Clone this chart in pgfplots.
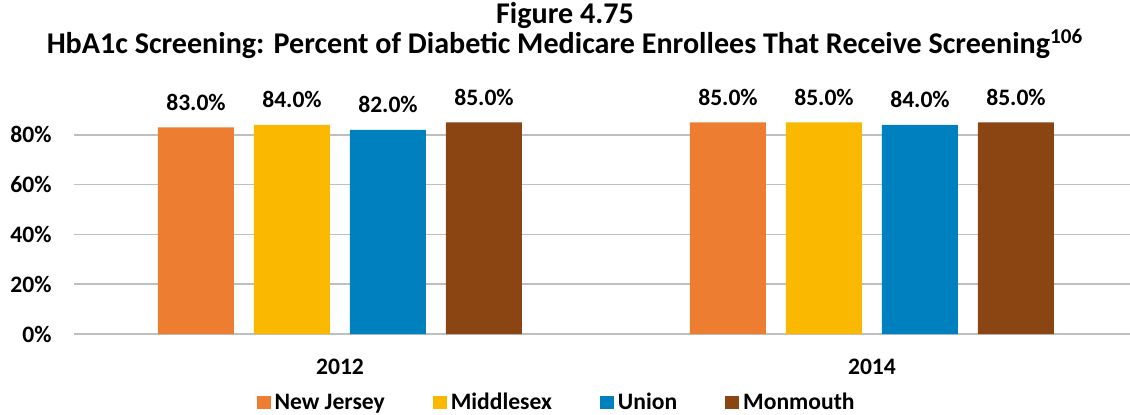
\documentclass[border=0pt]{standalone}
\usepackage{fontspec}
\setmainfont{Carlito}
\usepackage{pgfplots}
\pgfplotsset{compat=1.18}
\definecolor{cNJ}{HTML}{ED7D31}
\definecolor{cMi}{HTML}{FBB800}
\definecolor{cUn}{HTML}{0080BF}
\definecolor{cMo}{HTML}{8B4513}
\definecolor{grid}{HTML}{D9D9D9}
\begin{document}
\begin{tikzpicture}
\path[use as bounding box] (0,0) rectangle (565pt,207pt);
\node[font=\bfseries\fontsize{15.05}{18}\selectfont] at (282.5pt,199.5pt) {Figure 4.75};
\node[font=\bfseries\fontsize{15.05}{18}\selectfont] at (282.5pt,185pt) {HbA1c Screening: Percent of Diabetic Medicare Enrollees That Receive Screening\textsuperscript{106}};
\begin{axis}[
  at={(37pt,40pt)}, anchor=south west,
  scale only axis, width=528pt, height=112pt,
  xmin=-0.5, xmax=1.485, ymin=0, ymax=0.9,
  separate axis lines,
  x axis line style={draw=none},
  y axis line style={draw=none},
  tick style={draw=none},
  major tick length=0pt,
  xmajorgrids=false,
  ybar, bar width=38pt,
  ytick={0,0.2,0.4,0.6,0.8},
  yticklabels={0\%,20\%,40\%,60\%,80\%},
  ymajorgrids, grid style={grid, line width=0.8pt},
  xtick={0,1}, xticklabels={2012,2014},
  /pgf/number format/assume math mode=true,
  ticklabel style={font=\bfseries\fontsize{11.8}{14}\selectfont},
  yticklabel style={inner sep=0pt, xshift=-11pt},
  xticklabel style={inner sep=0pt, yshift=-12.5pt},
  clip=false,
  nodes near coords={\pgfmathprintnumber[fixed,fixed zerofill,precision=1,assume math mode=true]{\pgfplotspointmeta}\%},
  point meta=explicit,
  every node near coord/.append style={font=\bfseries\fontsize{11.8}{14}\selectfont, yshift=5pt, text=black},
  legend style={at={(0.4579,-0.308)}, anchor=center, draw=none, fill=none, legend columns=4,
    font=\bfseries\fontsize{11.8}{14}\selectfont, /tikz/every even column/.append style={column sep=22pt}},
  legend cell align=left,
  legend image code/.code={\fill[#1] (0pt,-3.25pt) rectangle (7pt,3.25pt);},
]
\addplot[fill=cNJ, draw=none, bar shift=-72pt] coordinates {(0,0.83) [83] (1,0.85) [85]};
\addplot[fill=cMi, draw=none, bar shift=-24pt] coordinates {(0,0.84) [84] (1,0.85) [85]};
\addplot[fill=cUn, draw=none, bar shift=24pt] coordinates {(0,0.82) [82] (1,0.84) [84]};
\addplot[fill=cMo, draw=none, bar shift=72pt] coordinates {(0,0.85) [85] (1,0.85) [85]};
\legend{New Jersey, Middlesex, Union, Monmouth}
\end{axis}
\end{tikzpicture}
\end{document}
